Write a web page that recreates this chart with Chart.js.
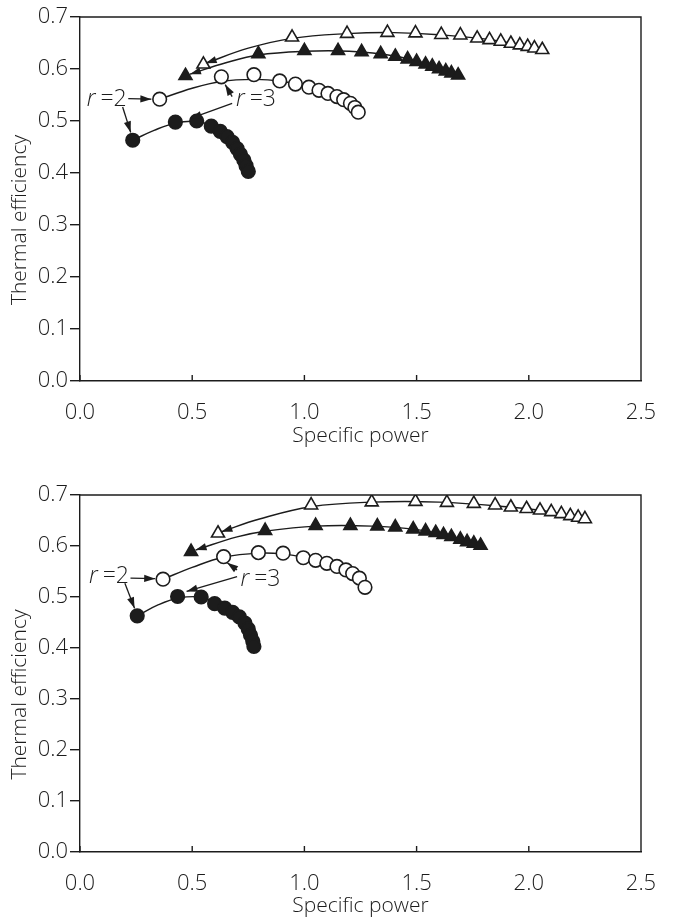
<!DOCTYPE html>
<html>
<head>
<meta charset="utf-8">
<script src="https://cdn.jsdelivr.net/npm/chart.js@4.4.1/dist/chart.umd.min.js"></script>
<style>
  html, body { margin: 0; padding: 0; background: #fff; }
  .panel { position: absolute; left: 0; width: 675px; }
  #top { top: 0; height: 460px; }
  #bottom { top: 460px; height: 459px; }
</style>
</head>
<body>
<div class="panel" id="top"><canvas id="chartTop"></canvas></div>
<div class="panel" id="bottom"><canvas id="chartBottom"></canvas></div>
<script>
// axis ticks
const xTicks = [0.0, 0.5, 1.0, 1.5, 2.0, 2.5];
const yTicks = [0.0, 0.1, 0.2, 0.3, 0.4, 0.5, 0.6, 0.7];

// upper panel: measured points [specific power, thermal efficiency]
const topFilledCircle = [[0.235,0.463],[0.425,0.498],[0.52,0.500],[0.585,0.490],[0.625,0.480],[0.655,0.470],
  [0.68,0.459],[0.70,0.447],[0.715,0.436],[0.73,0.425],[0.74,0.414],[0.75,0.403]];
const topOpenCircle = [[0.355,0.542],[0.63,0.585],[0.775,0.589],[0.89,0.577],[0.96,0.571],[1.02,0.565],
  [1.065,0.559],[1.105,0.553],[1.145,0.547],[1.175,0.541],[1.205,0.534],[1.225,0.526],[1.24,0.517]];
const topFilledTriangle = [[0.47,0.587],[0.795,0.629],[1.0,0.635],[1.15,0.635],[1.255,0.633],[1.34,0.629],
  [1.405,0.624],[1.46,0.619],[1.50,0.614],[1.54,0.609],[1.57,0.605],[1.60,0.600],[1.63,0.596],[1.655,0.592],[1.685,0.588]];
const topOpenTriangle = [[0.55,0.609],[0.945,0.661],[1.19,0.668],[1.37,0.670],[1.495,0.669],[1.61,0.666],
  [1.695,0.665],[1.77,0.659],[1.825,0.656],[1.875,0.653],[1.92,0.649],[1.96,0.646],[1.995,0.643],[2.025,0.640],[2.06,0.637]];

// upper panel: fitted curves
const topFilledCircleFit = [[0.235,0.463],[0.33,0.482],[0.425,0.496],[0.52,0.499],[0.60,0.490]];
const topOpenCircleFit = [[0.355,0.542],[0.50,0.563],[0.63,0.576],[0.775,0.580],[0.89,0.577],[1.0,0.567],[1.10,0.553],[1.20,0.535],[1.24,0.517]];
const topFilledTriangleFit = [[0.49,0.590],[0.65,0.612],[0.795,0.627],[1.0,0.634],[1.20,0.634],[1.40,0.625],[1.55,0.609],[1.685,0.588]];
const topOpenTriangleFit = [[0.56,0.611],[0.75,0.640],[0.945,0.659],[1.19,0.668],[1.40,0.670],[1.60,0.666],[1.85,0.655],[2.06,0.637]];

// lower panel: measured points
const botFilledCircle = [[0.255,0.463],[0.435,0.501],[0.54,0.500],[0.60,0.487],[0.645,0.478],[0.68,0.470],
  [0.71,0.461],[0.735,0.449],[0.75,0.437],[0.76,0.425],[0.77,0.413],[0.775,0.403]];
const botOpenCircle = [[0.37,0.535],[0.64,0.579],[0.795,0.587],[0.905,0.586],[0.995,0.577],[1.05,0.572],
  [1.10,0.566],[1.145,0.560],[1.185,0.553],[1.215,0.546],[1.245,0.537],[1.27,0.519]];
const botFilledTriangle = [[0.495,0.589],[0.825,0.630],[1.05,0.640],[1.205,0.640],[1.325,0.639],[1.405,0.637],
  [1.485,0.633],[1.54,0.629],[1.585,0.626],[1.62,0.622],[1.655,0.618],[1.695,0.613],[1.725,0.608],[1.755,0.605],[1.785,0.601]];
const botOpenTriangle = [[0.615,0.625],[1.03,0.680],[1.30,0.686],[1.495,0.687],[1.635,0.685],[1.755,0.683],
  [1.85,0.680],[1.92,0.676],[1.99,0.673],[2.05,0.670],[2.10,0.667],[2.145,0.663],[2.185,0.659],[2.22,0.656],[2.25,0.653]];

// lower panel: fitted curves
const botFilledCircleFit = [[0.255,0.463],[0.35,0.485],[0.44,0.498],[0.54,0.500],[0.60,0.490]];
const botOpenCircleFit = [[0.37,0.535],[0.50,0.558],[0.64,0.578],[0.80,0.586],[0.91,0.584],[1.0,0.577],[1.10,0.565],[1.20,0.548],[1.27,0.519]];
const botFilledTriangleFit = [[0.515,0.592],[0.70,0.618],[0.825,0.629],[1.05,0.639],[1.30,0.639],[1.50,0.632],[1.65,0.619],[1.785,0.601]];
const botOpenTriangleFit = [[0.63,0.628],[0.80,0.653],[1.03,0.677],[1.30,0.686],[1.60,0.686],[1.90,0.677],[2.10,0.667],[2.25,0.653]];

// "r" labels and their pointer arrows, in data units
const topLabels = [{ text: '2', at: [0.03, 0.542] }, { text: '3', at: [0.695, 0.541] }];
const topArrows = [
  [[0.215, 0.543], [0.318, 0.542]],
  [[0.19, 0.527], [0.226, 0.478]],
  [[0.678, 0.547], [0.647, 0.570]],
  [[0.678, 0.534], [0.493, 0.505]]
];
const botLabels = [{ text: '2', at: [0.04, 0.540] }, { text: '3', at: [0.715, 0.534] }];
const botArrows = [
  [[0.225, 0.537], [0.335, 0.536]],
  [[0.20, 0.527], [0.243, 0.478]],
  [[0.70, 0.553], [0.656, 0.567]],
  [[0.70, 0.540], [0.475, 0.511]]
];

const ink = '#1c1c1c';
const family = '"Open Sans", "DejaVu Sans", sans-serif';

const pts = arr => arr.map(p => ({ x: p[0], y: p[1] }));

function arrowHead(ctx, x0, y0, x1, y1) {
  const a = Math.atan2(y1 - y0, x1 - x0);
  const len = 11, half = 3.6;
  ctx.beginPath();
  ctx.moveTo(x1, y1);
  ctx.lineTo(x1 - len * Math.cos(a) + half * Math.sin(a), y1 - len * Math.sin(a) - half * Math.cos(a));
  ctx.lineTo(x1 - len * Math.cos(a) - half * Math.sin(a), y1 - len * Math.sin(a) + half * Math.cos(a));
  ctx.closePath();
  ctx.fill();
}

// frame, inward x ticks, y title, r labels and arrows
const notesPlugin = {
  id: 'notes',
  afterDatasetsDraw(chart, args, opts) {
    const { ctx, chartArea: a, scales: { x, y } } = chart;
    ctx.save();
    ctx.strokeStyle = ink;
    ctx.fillStyle = ink;
    ctx.lineWidth = 1.4;
    ctx.beginPath();
    ctx.moveTo(a.left, a.top);
    ctx.lineTo(a.right, a.top);
    ctx.lineTo(a.right, a.bottom);
    xTicks.forEach(v => {
      const px = x.getPixelForValue(v);
      ctx.moveTo(px, a.bottom);
      ctx.lineTo(px, a.bottom - 6);
    });
    ctx.stroke();

    // pointer arrows
    ctx.lineWidth = 1.3;
    opts.arrows.forEach(([p0, p1]) => {
      const x0 = x.getPixelForValue(p0[0]), y0 = y.getPixelForValue(p0[1]);
      const x1 = x.getPixelForValue(p1[0]), y1 = y.getPixelForValue(p1[1]);
      ctx.beginPath();
      ctx.moveTo(x0, y0);
      ctx.lineTo(x1, y1);
      ctx.stroke();
      arrowHead(ctx, x0, y0, x1, y1);
    });

    // arrowheads on the triangle curves
    opts.curveHeads.forEach(fit => {
      const x0 = x.getPixelForValue(fit[1][0]), y0 = y.getPixelForValue(fit[1][1]);
      const x1 = x.getPixelForValue(fit[0][0]), y1 = y.getPixelForValue(fit[0][1]);
      arrowHead(ctx, x0, y0, x1, y1);
    });

    // r = n labels
    ctx.textBaseline = 'middle';
    ctx.textAlign = 'left';
    opts.labels.forEach(l => {
      const px = x.getPixelForValue(l.at[0]), py = y.getPixelForValue(l.at[1]);
      ctx.font = 'italic 300 23px ' + family;
      ctx.fillText('r', px, py);
      const w = ctx.measureText('r').width;
      ctx.font = '300 23px ' + family;
      ctx.fillText('=' + l.text, px + w + 5, py);
    });

    // y axis title
    ctx.font = '300 21px ' + family;
    ctx.textAlign = 'center';
    ctx.translate(20, (a.top + a.bottom) / 2 + 21);
    ctx.rotate(-Math.PI / 2);
    ctx.fillText('Thermal efficiency', 0, 0);
    ctx.restore();
  }
};

function fitSet(data) {
  return {
    data: pts(data), showLine: true, borderColor: ink, borderWidth: 1.4,
    pointRadius: 0, tension: 0.4, order: 2
  };
}
function markSet(data, style, filled) {
  return {
    data: pts(data), showLine: false, pointStyle: style,
    pointRadius: style === 'circle' ? 6.8 : 7.5,
    pointBorderWidth: 1.6, pointBorderColor: ink,
    pointBackgroundColor: filled ? ink : '#fff', order: 1
  };
}

function makeChart(id, sets, padTop, axisHeight, titlePad, notes) {
  const tickFont = { family: family, size: 22, weight: '300' };
  return new Chart(document.getElementById(id), {
    type: 'scatter',
    data: { datasets: sets },
    options: {
      responsive: true,
      maintainAspectRatio: false,
      animation: false,
      layout: { padding: { top: padTop, right: 34, left: 0, bottom: 0 } },
      plugins: { legend: { display: false }, tooltip: { enabled: false }, notes: notes },
      scales: {
        x: {
          type: 'linear', min: 0, max: 2.5,
          afterBuildTicks: s => { s.ticks = xTicks.map(v => ({ value: v })); },
          afterFit: s => { s.height = axisHeight; },
          grid: { display: false },
          border: { display: true, color: ink, width: 1.4 },
          ticks: { padding: 11, maxRotation: 0, color: ink, font: tickFont, callback: v => v.toFixed(1) },
          title: { display: true, text: 'Specific power', color: ink,
                   font: { family: family, size: 21, weight: '300' }, padding: { top: 0, bottom: titlePad } }
        },
        y: {
          type: 'linear', min: 0, max: 0.7,
          afterBuildTicks: s => { s.ticks = yTicks.map(v => ({ value: v })); },
          afterFit: s => { s.width = 80; },
          grid: { display: true, drawOnChartArea: false, drawTicks: true, tickLength: 10, color: ink, lineWidth: 1.4 },
          border: { display: true, color: ink, width: 1.4 },
          ticks: { padding: 2, color: ink, font: tickFont, callback: v => v.toFixed(1) }
        }
      }
    },
    plugins: [notesPlugin]
  });
}

makeChart('chartTop', [
  fitSet(topFilledCircleFit), fitSet(topOpenCircleFit), fitSet(topFilledTriangleFit), fitSet(topOpenTriangleFit),
  markSet(topFilledCircle, 'circle', true), markSet(topOpenCircle, 'circle', false),
  markSet(topFilledTriangle, 'triangle', true), markSet(topOpenTriangle, 'triangle', false)
], 17, 79, 11, { labels: topLabels, arrows: topArrows, curveHeads: [topFilledTriangleFit, topOpenTriangleFit] });

makeChart('chartBottom', [
  fitSet(botFilledCircleFit), fitSet(botOpenCircleFit), fitSet(botFilledTriangleFit), fitSet(botOpenTriangleFit),
  markSet(botFilledCircle, 'circle', true), markSet(botOpenCircle, 'circle', false),
  markSet(botFilledTriangle, 'triangle', true), markSet(botOpenTriangle, 'triangle', false)
], 35, 67, 0, { labels: botLabels, arrows: botArrows, curveHeads: [botFilledTriangleFit, botOpenTriangleFit] });
</script>
</body>
</html>
